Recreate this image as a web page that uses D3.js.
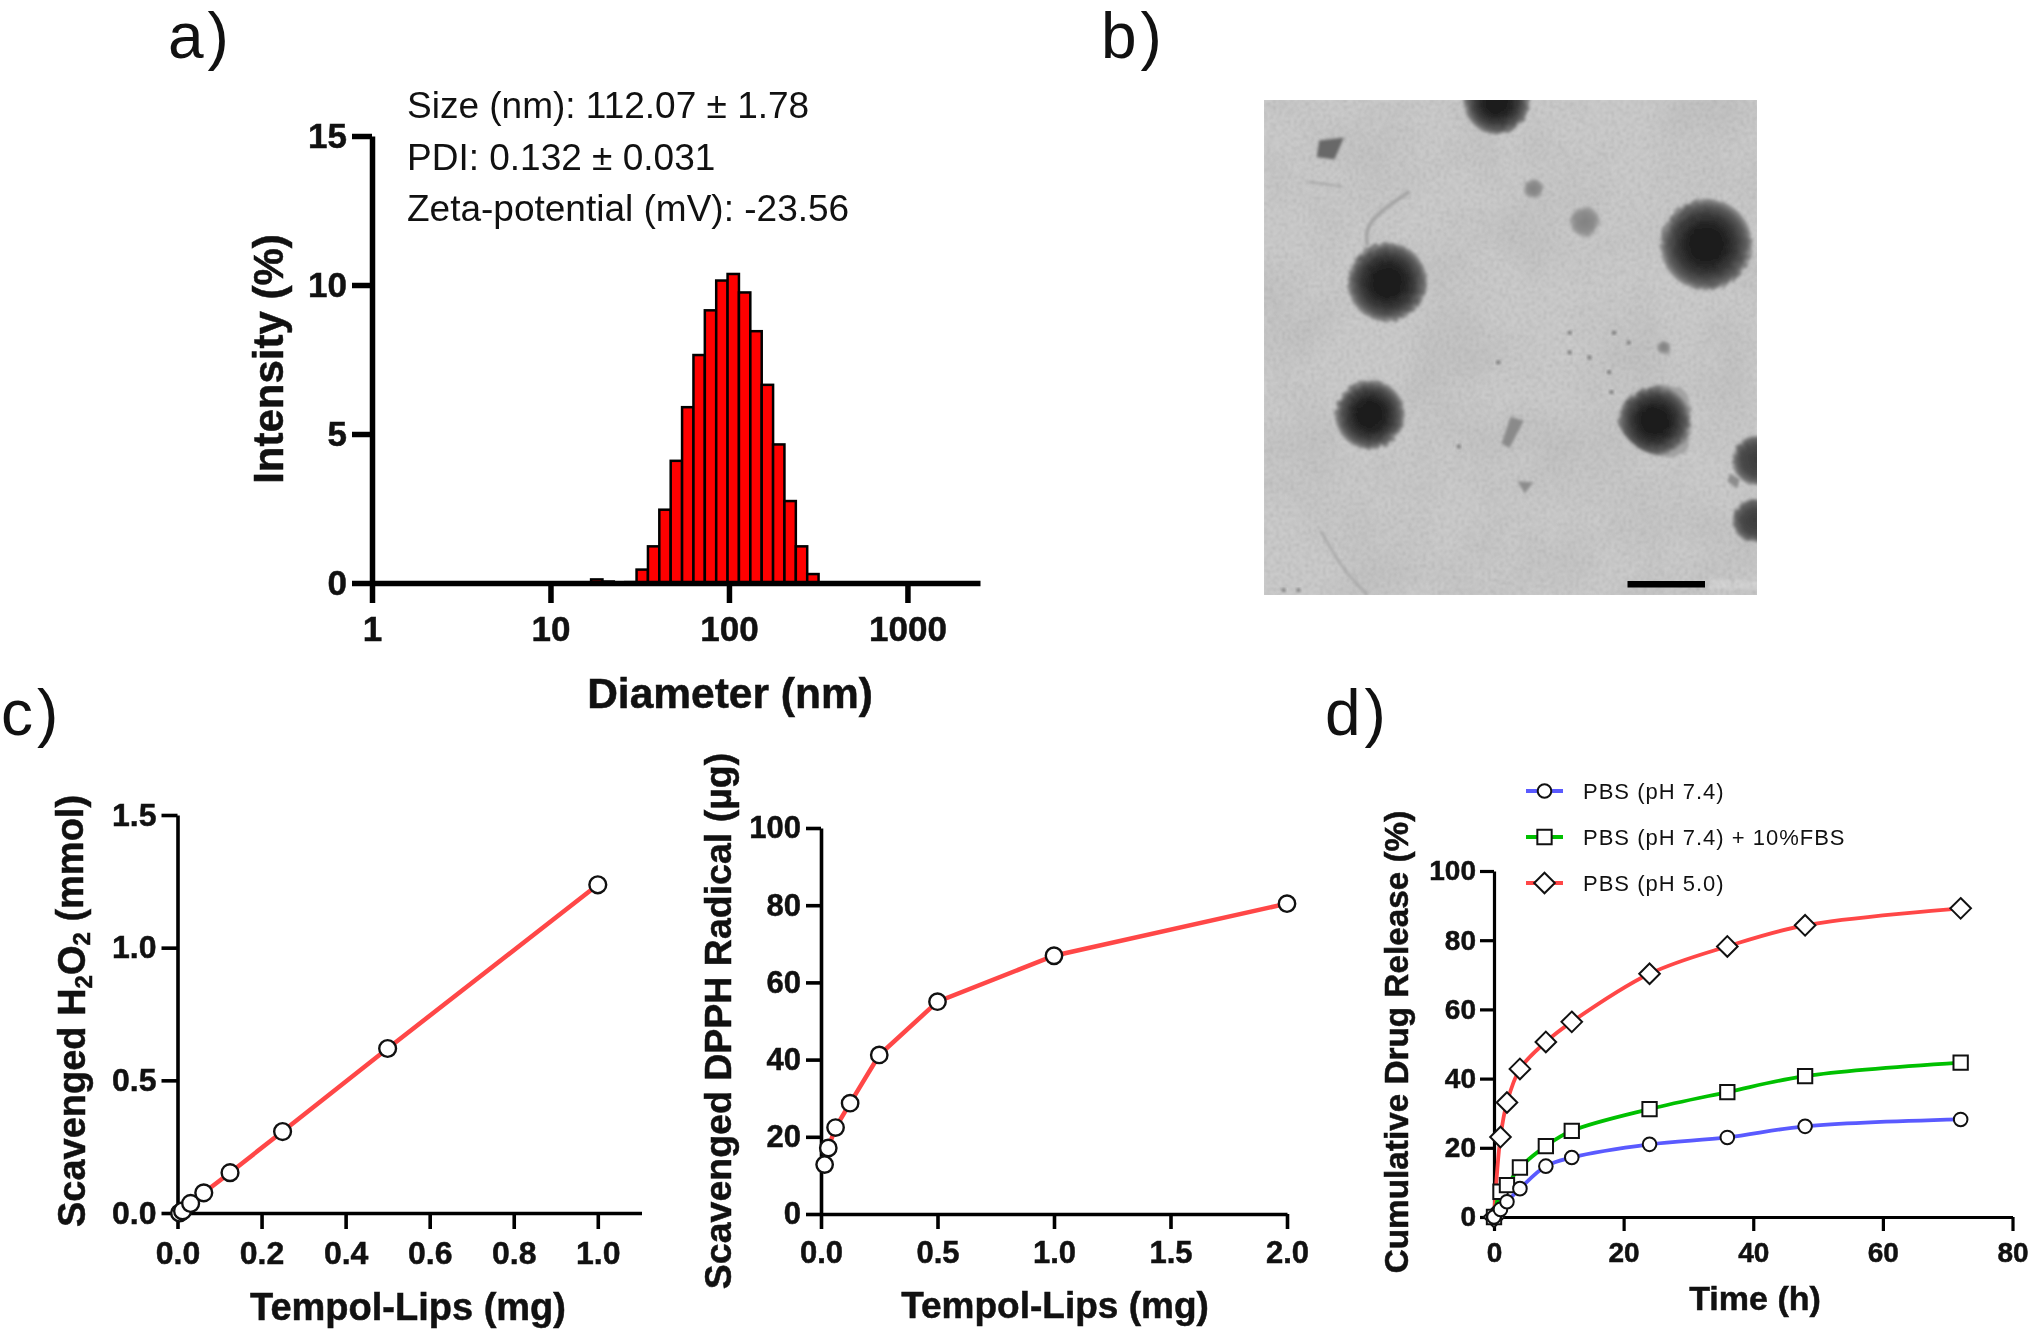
<!DOCTYPE html>
<html><head><meta charset="utf-8">
<script src="https://cdn.jsdelivr.net/npm/d3@7/dist/d3.min.js"></script>
<style>
html,body{margin:0;padding:0;background:#fff}
svg{display:block;filter:blur(0.5px)}
text{font-family:"Liberation Sans",Arial,sans-serif;fill:#111}
.tick text{font-weight:bold;stroke:#111;stroke-width:.5px}
.lab{font-weight:bold;stroke:#111;stroke-width:.5px}
</style></head><body>
<svg id="c" width="2032" height="1333"></svg>
<script>
// Panel a: DLS size distribution
const sizeBins = [18.17,21.04,24.36,28.21,32.67,37.84,43.82,50.75,58.77,68.06,78.82,91.28,105.7,122.4,141.8,164.2,190.1,220.2,255.0,295.3];
const sizeIntensity = [0.12,0.05,0.01,0.03,0.45,1.23,2.46,4.1,5.9,7.65,9.15,10.15,10.37,9.75,8.45,6.65,4.65,2.75,1.23,0.3];
const sizeTicks = [1,10,100,1000];
const intensityTicks = [0,5,10,15];
const sizeNotes = ["Size (nm): 112.07 ± 1.78","PDI: 0.132 ± 0.031","Zeta-potential (mV): -23.56"];
// Panel c left
const h2o2Dose = [0.005,0.012,0.03125,0.0625,0.125,0.25,0.5,1.0];
const h2o2Val = [0.0,0.008,0.036,0.076,0.152,0.307,0.62,1.237];
const h2o2XTicks = [0,0.2,0.4,0.6,0.8,1.0];
const h2o2YTicks = [0,0.5,1.0,1.5];
// Panel c right
const dpphDose = [0.0156,0.03125,0.0625,0.125,0.25,0.5,1.0,2.0];
const dpphVal = [12.8,17.1,22.4,28.7,41.2,55,66.9,80.4];
const dpphXTicks = [0,0.5,1.0,1.5,2.0];
const dpphYTicks = [0,20,40,60,80,100];
// Panel d
const timeH = [0,1,2,4,8,12,24,36,48,72];
const pbs74 = [0,2.2,4.4,8.2,14.7,17.2,21,23,26.2,28.2];
const pbs74fbs = [0,7.3,9.2,14.3,20.5,24.9,31.2,36.1,40.7,44.6];
const pbs50 = [0,23.1,33.1,42.8,50.6,56.4,70.3,78.2,84.3,89.2];
const releaseNames = ["PBS (pH 7.4)","PBS (pH 7.4) + 10%FBS","PBS (pH 5.0)"];
const timeTicks = [0,20,40,60,80];
const releaseTicks = [0,20,40,60,80,100];

const svg = d3.select("#c");
const defs = svg.append("defs");

function styleAxis(g, sw, fs){
  g.selectAll("path.domain").attr("stroke","#000").attr("stroke-width",sw).attr("fill","none");
  g.selectAll(".tick line").attr("stroke","#000").attr("stroke-width",sw);
  g.selectAll(".tick text").style("font-size",fs+"px").style("font-family",'"Liberation Sans",Arial,sans-serif').attr("fill","#111");
}
function axes(xS,yS,xT,yT,o){
  const xA=d3.axisBottom(xS).tickValues(xT).tickSize(o.tick).tickSizeOuter(0).tickPadding(o.padX).tickFormat(o.fx);
  const yA=d3.axisLeft(yS).tickValues(yT).tickSize(o.tick).tickSizeOuter(0).tickPadding(o.padY).tickFormat(o.fy);
  const gy=svg.append("g").attr("transform",`translate(${xS.range()[0]},0)`).call(yA);
  const gx=svg.append("g").attr("transform",`translate(0,${yS.range()[0]})`).call(xA);
  styleAxis(gx,o.sw,o.fs); styleAxis(gy,o.sw,o.fs);
}
function label(txt,x,y,fs,rot){
  const t=svg.append("text").attr("class","lab").attr("text-anchor","middle").style("font-size",fs+"px")
    .attr("transform",`translate(${x},${y})`+(rot?" rotate(-90)":""));
  if(typeof txt==="string") t.text(txt);
  else txt.forEach(p=>{const s=t.append("tspan").text(p[0]); if(p[1]) s.attr("dy",p[1]);});
  return t;
}
function letter(s,x,y){ svg.append("text").attr("x",x).attr("y",y).style("font-size","64px").style("letter-spacing","4px").text(s); }
letter("a)",168,58); letter("b)",1101,58); letter("c)",1,735); letter("d)",1325,735);

/* ---------- Panel a ---------- */
(function(){
  const x=d3.scaleLog().domain([1,2550]).range([372,980]);
  const y=d3.scaleLinear().domain([0,15]).range([583,136]);
  const half=Math.sqrt(sizeBins[1]/sizeBins[0]);
  svg.append("g").selectAll("rect").data(sizeBins).join("rect")
    .attr("x",d=>x(d/half)).attr("width",d=>x(d*half)-x(d/half))
    .attr("y",(d,i)=>y(sizeIntensity[i])).attr("height",(d,i)=>y(0)-y(sizeIntensity[i]))
    .attr("fill","#ff0000").attr("stroke","#000").attr("stroke-width",2.5);
  axes(x,y,sizeTicks,intensityTicks,{tick:20,padX:13,padY:5,sw:5.5,fs:35,fx:d3.format("d"),fy:d3.format("d")});
  label("Diameter (nm)",730,708,42.5);
  label("Intensity (%)",283,359,42,true);
  svg.append("g").selectAll("text").data(sizeNotes).join("text")
    .attr("x",407).attr("y",(d,i)=>118+i*51.5).style("font-size","37px").attr("fill","#222").text(d=>d);
})();

/* ---------- Panel b: micrograph ---------- */
(function(){
  const L=1264,T=100,W=493,H=495;
  const u=d3.scaleLinear().domain([0,1]).range([L,L+W]);
  const v=d3.scaleLinear().domain([0,1]).range([T,T+H]);
  defs.append("clipPath").attr("id","temclip").append("rect").attr("x",L).attr("y",T).attr("width",W).attr("height",H);
  const rough=defs.append("filter").attr("id","rough").attr("x","-30%").attr("y","-30%").attr("width","160%").attr("height","160%");
  rough.append("feTurbulence").attr("type","fractalNoise").attr("baseFrequency",0.18).attr("numOctaves",2).attr("seed",7).attr("result","n");
  rough.append("feDisplacementMap").attr("in","SourceGraphic").attr("in2","n").attr("scale",5);
  rough.append("feGaussianBlur").attr("stdDeviation",1.5);
  const soft=defs.append("filter").attr("id","soft").attr("x","-30%").attr("y","-30%").attr("width","160%").attr("height","160%");
  soft.append("feGaussianBlur").attr("stdDeviation",1.4);
  const fine=defs.append("filter").attr("id","fine").attr("x",0).attr("y",0).attr("width","100%").attr("height","100%");
  fine.append("feTurbulence").attr("type","fractalNoise").attr("baseFrequency",0.34).attr("numOctaves",2).attr("seed",4);
  fine.append("feColorMatrix").attr("values","0 0 0 0 0.28  0 0 0 0 0.28  0 0 0 0 0.28  1.7 0 0 0 -0.66");
  fine.append("feGaussianBlur").attr("stdDeviation",0.9);
  const cloud=defs.append("filter").attr("id","cloud").attr("x",0).attr("y",0).attr("width","100%").attr("height","100%");
  cloud.append("feTurbulence").attr("type","fractalNoise").attr("baseFrequency",0.012).attr("numOctaves",3).attr("seed",12);
  cloud.append("feColorMatrix").attr("values","0 0 0 0 0.42  0 0 0 0 0.42  0 0 0 0 0.42  2.2 0 0 0 -0.85");
  const grad=defs.append("radialGradient").attr("id","blob");
  [[0,"#191919"],[0.4,"#202020"],[0.65,"#393939"],[0.85,"#5c5c5c"],[0.96,"#858585"],[1,"#a2a2a2"]]
    .forEach(s=>grad.append("stop").attr("offset",s[0]).attr("stop-color",s[1]));
  const grad3=defs.append("radialGradient").attr("id","blobm");
  [[0,"#3c3c3c"],[0.6,"#484848"],[0.88,"#6a6a6a"],[1,"#a0a0a0"]]
    .forEach(s=>grad3.append("stop").attr("offset",s[0]).attr("stop-color",s[1]));
  const grad2=defs.append("radialGradient").attr("id","blobg");
  [[0,"#808080"],[0.7,"#8e8e8e"],[1,"#aaaaaa"]].forEach(s=>grad2.append("stop").attr("offset",s[0]).attr("stop-color",s[1]));

  const g=svg.append("g").attr("clip-path","url(#temclip)");
  g.append("rect").attr("x",L).attr("y",T).attr("width",W).attr("height",H).attr("fill","#cdcdcd");
  g.append("rect").attr("x",L).attr("y",T).attr("width",W).attr("height",H).attr("filter","url(#cloud)").attr("opacity",0.3);
  g.append("rect").attr("x",L).attr("y",T).attr("width",W).attr("height",H).attr("filter","url(#fine)").attr("opacity",0.55);

  const blobs=[[.472,.003,33],[.25,.368,40],[.897,.292,46],[.215,.636,35]];
  g.append("g").attr("filter","url(#rough)").selectAll("circle").data(blobs).join("circle")
    .attr("cx",d=>u(d[0])).attr("cy",d=>v(d[1])).attr("r",d=>d[2]).attr("fill","url(#blob)");
  const edge=[[1.0,.728,25],[.995,.85,22]];
  g.append("g").attr("filter","url(#rough)").selectAll("circle").data(edge).join("circle")
    .attr("cx",d=>u(d[0])).attr("cy",d=>v(d[1])).attr("r",d=>d[2]).attr("fill","url(#blobm)");
  const curve=d3.line().x(d=>u(d[0])).y(d=>v(d[1]));
  g.append("path").attr("filter","url(#rough)").attr("fill","url(#blob)")
    .attr("d",curve.curve(d3.curveCatmullRomClosed)([[.79,.578],[.85,.585],[.866,.63],[.855,.71],[.81,.72],[.755,.70],[.718,.65],[.735,.605]]));
  const small=[[.651,.246,15],[.546,.179,10],[.811,.50,7]];
  g.append("g").attr("filter","url(#rough)").selectAll("circle").data(small).join("circle")
    .attr("cx",d=>u(d[0])).attr("cy",d=>v(d[1])).attr("r",d=>d[2]).attr("fill","url(#blobg)");
  const polys=[
    [[[.112,.082],[.162,.076],[.143,.12],[.107,.115]],"#686868"],
    [[[.50,.64],[.527,.648],[.498,.703],[.482,.694]],"#8a8a8a"],
    [[[.514,.77],[.546,.772],[.529,.795]],"#8c8c8c"],
    [[[.945,.755],[.965,.765],[.96,.785],[.94,.77]],"#8c8c8c"]];
  g.append("g").attr("filter","url(#soft)").selectAll("path").data(polys).join("path")
    .attr("d",d=>curve.curve(d3.curveLinearClosed)(d[0])).attr("fill",d=>d[1]);
  const fil=[[[.21,.295],[.205,.26],[.235,.225],[.295,.185]],[[.09,.165],[.16,.175]],[[.115,.87],[.16,.95],[.21,1]]];
  g.append("g").attr("filter","url(#soft)").selectAll("path").data(fil).join("path")
    .attr("d",d=>curve.curve(d3.curveBasis)(d)).attr("fill","none").attr("stroke","#a0a0a0").attr("stroke-width",(d,i)=>i==0?3.5:2);
  const dots=[[.705,.59],[.66,.52],[.62,.47],[.71,.47],[.74,.49],[.475,.53],[.395,.70],[.62,.51],[.7,.55],[.07,.99],[.04,.99]];
  g.append("g").selectAll("circle").data(dots).join("circle")
    .attr("cx",d=>u(d[0])).attr("cy",d=>v(d[1])).attr("r",1.9).attr("fill","#666").attr("filter","url(#soft)");
  g.append("rect").attr("x",1627.5).attr("y",581).attr("width",77.5).attr("height",6.5).attr("fill","#000");
  g.append("text").attr("x",1709).attr("y",589).style("font-size","13px").style("fill","#e4e4e4").attr("filter","url(#soft)").text("200.0nm");
})();

/* ---------- Panel c shared ---------- */
const LINE_RED="#ff4747";
function marks(g,xs,ys,x,y,r){
  g.append("g").selectAll("circle").data(xs).join("circle")
    .attr("cx",d=>x(d)).attr("cy",(d,i)=>y(ys[i])).attr("r",r)
    .attr("fill","#fff").attr("stroke","#111").attr("stroke-width",2.4);
}
(function(){
  const x=d3.scaleLinear().domain([0,1.104]).range([177.5,641.5]);
  const y=d3.scaleLinear().domain([0,1.5]).range([1213,815]);
  axes(x,y,h2o2XTicks,h2o2YTicks,{tick:16,padX:12,padY:5,sw:3.6,fs:32,fx:d3.format(".1f"),fy:d3.format(".1f")});
  const g=svg.append("g");
  g.append("path").attr("fill","none").attr("stroke",LINE_RED).attr("stroke-width",4.5)
    .attr("d",d3.line().x(d=>x(d)).y((d,i)=>y(h2o2Val[i]))(h2o2Dose));
  marks(g,h2o2Dose,h2o2Val,x,y,8.4);
  const t=label([["Scavenged H"],["2",".3em"],["O","-.18em"],["2",".18em"],[" (mmol)","-.18em"]],85,1011,38,true);
  t.selectAll("tspan").each(function(d,i){ d3.select(this).style("font-size",(i==1||i==3)?"24px":"38px"); });
  label("Tempol-Lips (mg)",408,1320,38);
})();
(function(){
  const x=d3.scaleLinear().domain([0,2]).range([821,1287]);
  const y=d3.scaleLinear().domain([0,100]).range([1214,828]);
  axes(x,y,dpphXTicks,dpphYTicks,{tick:15,padX:12,padY:5,sw:3.6,fs:31,fx:d3.format(".1f"),fy:d3.format("d")});
  const g=svg.append("g");
  g.append("path").attr("fill","none").attr("stroke",LINE_RED).attr("stroke-width",4.5)
    .attr("d",d3.line().x(d=>x(d)).y((d,i)=>y(dpphVal[i]))(dpphDose));
  marks(g,dpphDose,dpphVal,x,y,8.2);
  label("Scavenged DPPH Radical (µg)",731,1021,37.5,true);
  label("Tempol-Lips (mg)",1055,1318,37);
})();

/* ---------- Panel d ---------- */
(function(){
  const x=d3.scaleLinear().domain([0,80]).range([1494,2012.5]);
  const y=d3.scaleLinear().domain([0,100]).range([1217,871]);
  axes(x,y,timeTicks,releaseTicks,{tick:14,padX:11,padY:4,sw:3.2,fs:28,fx:d3.format("d"),fy:d3.format("d")});
  const colors=["#5a5aff","#00c000",LINE_RED];
  const series=[pbs74,pbs74fbs,pbs50];
  const shapes=[d3.symbolCircle,d3.symbolSquare];
  const sizes=[145,205];
  const symbol=(i)=>{
    if(i===2){const s=10.3;return `M0,${-s}L${s},0L0,${s}L${-s},0Z`;}
    return d3.symbol().type(shapes[i]).size(sizes[i])();
  };
  const line=d3.line().curve(d3.curveCatmullRom.alpha(0.5));
  [2,1,0].forEach(k=>{
    const g=svg.append("g");
    g.append("path").attr("fill","none").attr("stroke",colors[k]).attr("stroke-width",3.8)
      .attr("d",line.x(d=>x(d)).y((d,i)=>y(series[k][i]))(timeH));
    g.append("g").selectAll("path").data(timeH).join("path")
      .attr("transform",(d,i)=>`translate(${x(d)},${y(series[k][i])})`)
      .attr("d",symbol(k)).attr("fill","#fff").attr("stroke","#111").attr("stroke-width",2);
  });
  label("Time (h)",1755,1310,34);
  label("Cumulative Drug Release (%)",1408,1042,33.3,true);
  const leg=svg.append("g").selectAll("g").data(releaseNames).join("g")
    .attr("transform",(d,i)=>`translate(0,${791+i*46})`);
  leg.append("line").attr("x1",1526).attr("x2",1563).attr("y1",0).attr("y2",0)
    .attr("stroke",(d,i)=>colors[i]).attr("stroke-width",3.8);
  leg.append("path").attr("transform","translate(1544.5,0)")
    .attr("d",(d,i)=>symbol(i)).attr("fill","#fff").attr("stroke","#111").attr("stroke-width",2);
  leg.append("text").attr("x",1583).attr("y",8).style("font-size","22px").style("letter-spacing","1px").attr("fill","#222").text(d=>d);
})();
</script>
</body></html>
